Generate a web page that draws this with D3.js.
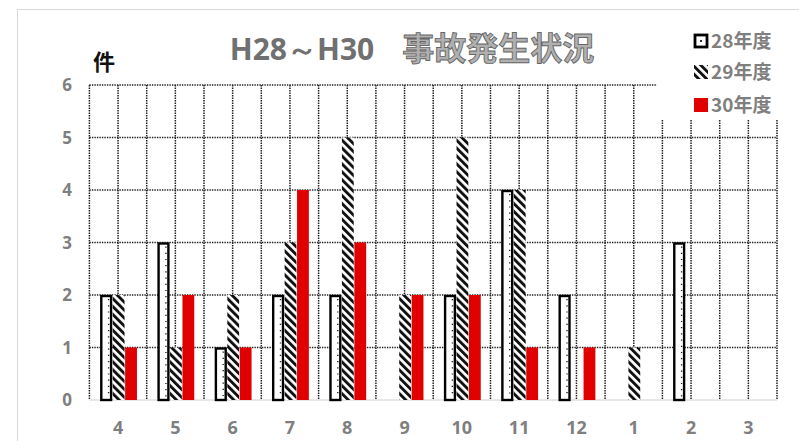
<!DOCTYPE html>
<html>
<head>
<meta charset="utf-8">
<script src="https://cdn.jsdelivr.net/npm/d3@7"></script>
<style>
  body { margin: 0; background: #fff; }
  svg text { font-family: "Noto Sans CJK JP", "Noto Sans", sans-serif; }
</style>
</head>
<body>
<script>
// data
const months = ["4", "5", "6", "7", "8", "9", "10", "11", "12", "1", "2", "3"];
const seriesNames = ["28年度", "29年度", "30年度"];
const fy28 = [2, 3, 1, 2, 2, 0, 2, 4, 2, 0, 3, 0];
const fy29 = [2, 1, 2, 3, 5, 2, 5, 4, 0, 1, 0, 0];
const fy30 = [1, 2, 1, 4, 3, 2, 2, 1, 1, 0, 0, 0];
const yTicks = [0, 1, 2, 3, 4, 5, 6];

const width = 799, height = 441;
const plotLeft = 89.4, plotRight = 777, plotTop = 85, plotBottom = 400;
const grey = "#7f7f7f";

const svg = d3.select("body").append("svg")
    .attr("width", width)
    .attr("height", height);

// outer frame
svg.append("rect")
    .attr("x", 17.5).attr("y", 9.5)
    .attr("width", 820).attr("height", 500)
    .attr("fill", "#fff").attr("stroke", "#d9d9d9");

const defs = svg.append("defs");
const hatch = defs.append("pattern")
    .attr("id", "hatch")
    .attr("patternUnits", "userSpaceOnUse")
    .attr("width", 5.6).attr("height", 5.6)
    .attr("patternTransform", "rotate(-45)");
hatch.append("rect").attr("width", 5.6).attr("height", 5.6).attr("fill", "#fff");
hatch.append("rect").attr("width", 2.9).attr("height", 5.6).attr("fill", "#111");

const xScale = d3.scaleBand().domain(months).range([plotLeft, plotRight]);
const bw = xScale.bandwidth();
const xSub = d3.scaleBand().domain(seriesNames)
    .range([bw * 0.19, bw * 0.83])
    .paddingInner(0.05);
const yScale = d3.scaleLinear().domain([0, 6]).range([plotBottom, plotTop]);

// grid
const grid = svg.append("g");
const vLines = [];
months.forEach(m => { vLines.push(xScale(m)); vLines.push(xScale(m) + bw / 2); });
vLines.push(plotRight);
grid.selectAll("line.v").data(vLines).enter().append("line")
    .attr("x1", d => d).attr("x2", d => d)
    .attr("y1", yScale(6)).attr("y2", yScale(0))
    .attr("stroke", "#222").attr("stroke-width", 1.5)
    .attr("stroke-dasharray", "1.4,1.1");
grid.selectAll("line.h").data(yTicks.filter(d => d > 0)).enter().append("line")
    .attr("x1", plotLeft).attr("x2", plotRight)
    .attr("y1", d => yScale(d)).attr("y2", d => yScale(d))
    .attr("stroke", "#222").attr("stroke-width", 1.5)
    .attr("stroke-dasharray", "1.4,1.1");
grid.append("line")
    .attr("x1", plotLeft).attr("x2", plotRight)
    .attr("y1", yScale(0)).attr("y2", yScale(0))
    .attr("stroke", "#d0d0d0").attr("stroke-width", 1.2);

// bars
const rows = months.map((m, i) => ({ month: m, vals: [fy28[i], fy29[i], fy30[i]] }));
const groups = svg.selectAll("g.month").data(rows).enter().append("g")
    .attr("transform", d => `translate(${xScale(d.month)},0)`);

const fills = ["#fff", "url(#hatch)", "#e00000"];
groups.each(function (d) {
    const g = d3.select(this);
    d.vals.forEach((v, k) => {
        if (v <= 0) return;
        const x = xSub(seriesNames[k]), w = xSub.bandwidth();
        if (k === 0) {
            g.append("rect")
                .attr("x", x + 1).attr("y", yScale(v) + 1)
                .attr("width", w - 2).attr("height", yScale(0) - yScale(v) - 1)
                .attr("fill", "#fff").attr("stroke", "#000").attr("stroke-width", 2.4);
            g.append("line")
                .attr("x1", x + w - 3.5).attr("x2", x + w - 3.5)
                .attr("y1", yScale(v) + 4).attr("y2", yScale(0) - 2)
                .attr("stroke", "#222").attr("stroke-width", 1.4)
                .attr("stroke-dasharray", "1.2,5");
        } else {
            g.append("rect")
                .attr("x", x).attr("y", yScale(v))
                .attr("width", w).attr("height", yScale(0) - yScale(v))
                .attr("fill", fills[k]);
        }
    });
});

// axes labels
svg.selectAll("text.ytick").data(yTicks).enter().append("text")
    .attr("x", 67).attr("y", d => yScale(d))
    .attr("dy", "0.36em").attr("text-anchor", "middle")
    .attr("font-size", 17).attr("font-weight", "bold")
    .attr("fill", grey)
    .style("font-family", "'Open Sans', sans-serif")
    .text(d => d);

svg.selectAll("text.xtick").data(months).enter().append("text")
    .attr("x", d => xScale(d) + bw / 2).attr("y", 428)
    .attr("dy", "0.36em").attr("text-anchor", "middle")
    .attr("font-size", 18).attr("font-weight", "bold")
    .attr("fill", grey)
    .style("font-family", "'Open Sans', sans-serif")
    .text(d => d);

svg.append("text")
    .attr("x", 104).attr("y", 70)
    .attr("text-anchor", "middle")
    .attr("font-size", 22).attr("font-weight", "bold")
    .attr("fill", "#111")
    .text("件");

// title
const title = svg.append("text")
    .attr("x", 412).attr("y", 60)
    .attr("text-anchor", "middle")
    .attr("font-weight", "bold");
title.append("tspan").attr("fill", "#707070")
    .attr("font-size", 30)
    .style("font-family", "'Open Sans', sans-serif")
    .text("H28～H30");
title.append("tspan").attr("fill", "#b0b0b0").attr("stroke", "#666").attr("stroke-width", 0.9)
    .attr("font-size", 32)
    .attr("dx", 28)
    .text("事故発生状況");

// legend
const legend = svg.append("g");
legend.append("rect")
    .attr("x", 657).attr("y", 14).attr("width", 140).attr("height", 106)
    .attr("fill", "#fff");
const legendY = [41, 72, 105];
seriesNames.forEach((name, k) => {
    const y = legendY[k];
    if (k === 0) {
        legend.append("rect")
            .attr("x", 695).attr("y", y - 6).attr("width", 12).attr("height", 12)
            .attr("fill", "#fff").attr("stroke", "#000").attr("stroke-width", 2.8);
        legend.append("rect")
            .attr("x", 700).attr("y", y - 1).attr("width", 2).attr("height", 2).attr("fill", "#333");
    } else {
        legend.append("rect")
            .attr("x", 694).attr("y", y - 7).attr("width", 14).attr("height", 14)
            .attr("fill", fills[k]);
    }
    legend.append("text")
        .attr("x", 711).attr("y", y)
        .attr("dy", "0.36em")
        .attr("font-size", 19).attr("font-weight", "bold")
        .attr("fill", grey)
        .text(name);
});
</script>
</body>
</html>
